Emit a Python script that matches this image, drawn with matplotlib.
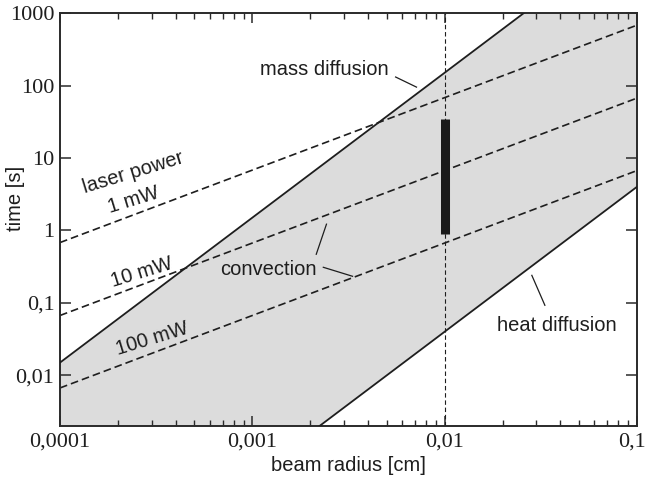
import numpy as np
import matplotlib
matplotlib.use("Agg")
import matplotlib.pyplot as plt
from matplotlib.transforms import ScaledTranslation

# endpoints of the power-law lines (beam radius in cm, time in s)
radius_ends = [1e-4, 0.1]
mass_diffusion = [0.015, 15000]
heat_diffusion = [4e-6, 4]
conv_1mw = [0.68, 680]
conv_10mw = [0.067, 67]
conv_100mw = [0.0067, 6.7]

# measured range at the chosen beam radius
bar_radius = 0.01
bar_time = [0.9, 35]

xticks = [1e-4, 1e-3, 1e-2, 1e-1]
xtick_labels = ["0,0001", "0,001", "0,01", "0,1"]
yticks = [0.01, 0.1, 1, 10, 100, 1000]
ytick_labels = ["0,01", "0,1", "1", "10", "100", "1000"]

ink = "#1e1e1e"
sans = "Liberation Sans"
serif = "Liberation Serif"

fig = plt.figure(figsize=(6.47, 4.83), dpi=100)
ax = fig.add_axes([0.0927, 0.118, 0.8918, 0.855])
ax.set_xscale("log")
ax.set_yscale("log")
ax.set_xlim(1e-4, 0.1)
ax.set_ylim(0.002, 1000)

# grey band between heat and mass diffusion
ax.fill_between(radius_ends, heat_diffusion, mass_diffusion, color="#dcdcdc", lw=0, zorder=0)
ax.plot(radius_ends, mass_diffusion, color=ink, lw=1.3, zorder=3)
ax.plot(radius_ends, heat_diffusion, color=ink, lw=1.3, zorder=3)

dash = (0, (4.6, 2.4))
for conv in [conv_1mw, conv_10mw, conv_100mw]:
    ax.plot(radius_ends, conv, color=ink, lw=1.2, ls=dash, zorder=2)

ax.axvline(bar_radius, color=ink, lw=0.8, ls=(0, (4, 2.5)), zorder=2)
ax.plot([bar_radius, bar_radius], bar_time, color="#1a1a1a", lw=6.5,
        solid_capstyle="butt", zorder=4)

# labels
tk = dict(fontsize=14.5, color=ink, family=sans, ha="center", va="center")
ax.text(2.4e-4, 6.2, "laser power", rotation=17, **tk)
ax.text(2.4e-4, 2.6, "1 mW", rotation=17, **tk)
ax.text(2.67e-4, 0.265, "10 mW", rotation=17, **tk)
ax.text(3.0e-4, 0.0324, "100 mW", rotation=17, **tk)
ax.text(0.00237, 168, "mass diffusion", **tk)
ax.text(0.00121, 0.291, "convection", **tk)
ax.text(0.0383, 0.049, "heat diffusion", **tk)

lk = dict(color=ink, lw=0.9)
ax.plot([0.00556, 0.00714], [131, 95], **lk)
ax.plot([0.00215, 0.00243], [0.469, 1.22], **lk)
ax.plot([0.00234, 0.00332], [0.310, 0.233], **lk)
ax.plot([0.0284, 0.0332], [0.240, 0.0927], **lk)

# axes styling
for s in ax.spines.values():
    s.set_linewidth(1.4)
    s.set_color("#2a2a2a")

ax.set_xticks(xticks)
ax.set_xticklabels(xtick_labels, family=serif, fontsize=16, color=ink)
ax.set_yticks(yticks)
ax.set_yticklabels(ytick_labels, family=serif, fontsize=16, color=ink)
ax.yaxis.set_minor_locator(matplotlib.ticker.NullLocator())
ax.xaxis.set_minor_locator(matplotlib.ticker.LogLocator(base=10, subs=np.arange(2, 10)))
ax.xaxis.set_minor_formatter(matplotlib.ticker.NullFormatter())
ax.tick_params(axis="both", which="both", direction="in", top=True, right=True,
               color="#2a2a2a")
ax.tick_params(axis="x", which="major", length=7, width=1.1, pad=5)
ax.tick_params(axis="x", which="minor", length=4, width=1.0)
ax.tick_params(axis="y", which="major", length=8, width=1.1, pad=4)

# keep the last x label inside the figure
last = ax.get_xticklabels()[-1]
last.set_transform(last.get_transform() + ScaledTranslation(-0.05, 0, fig.dpi_scale_trans))

ax.set_xlabel("beam radius [cm]", family=sans, fontsize=14.5, color=ink, labelpad=3)
ax.set_ylabel("time [s]", family=sans, fontsize=14.5, color=ink)
ax.yaxis.set_label_coords(-0.06, 0.55)

fig.savefig("out.png", dpi=100)
